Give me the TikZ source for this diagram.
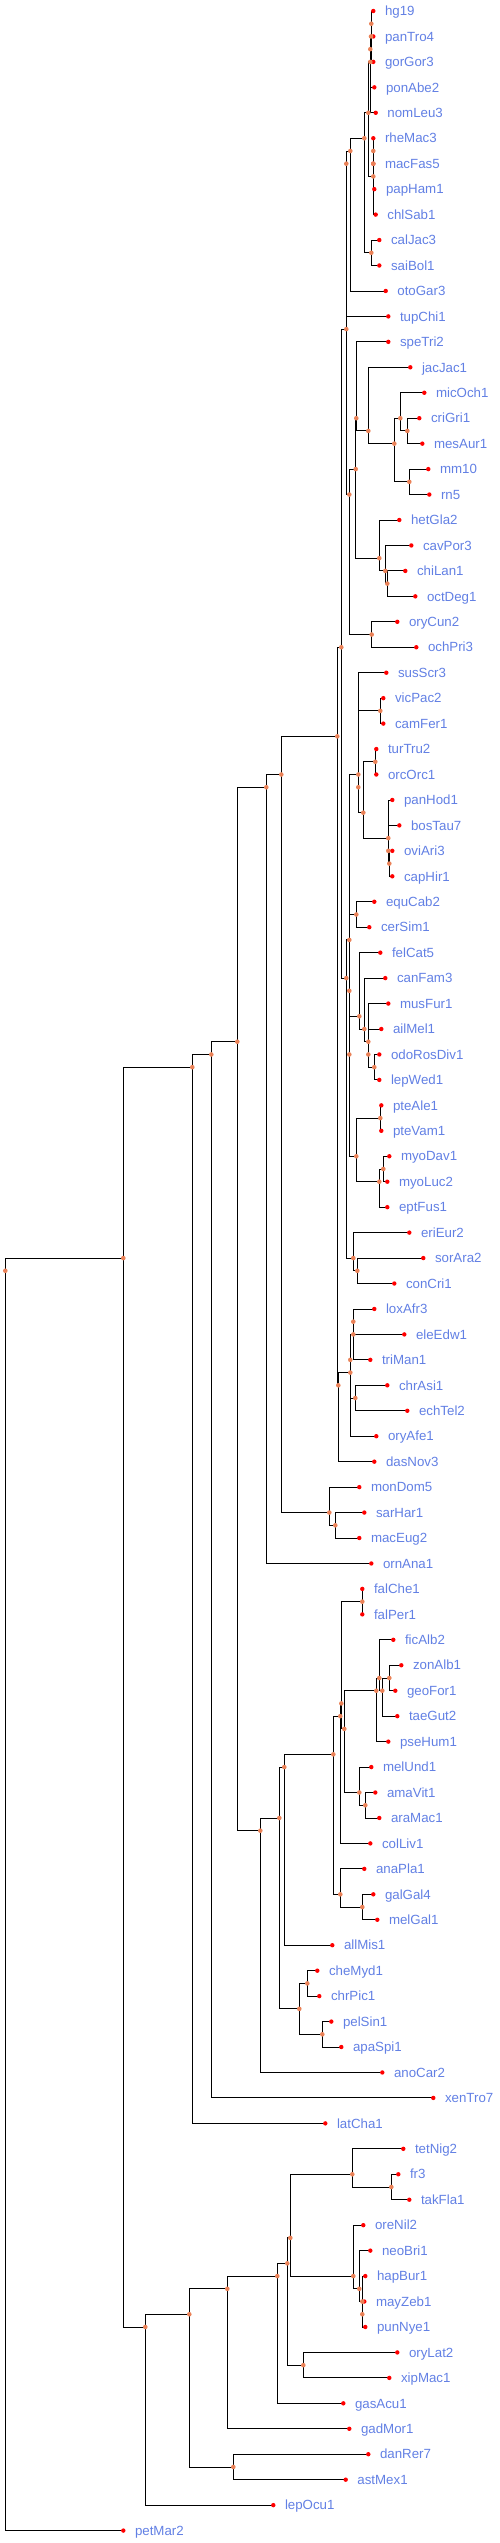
\documentclass[tikz,border=0pt]{standalone}
\usepackage{fontspec}
\setmainfont{Liberation Sans}
\usetikzlibrary{calc}

\definecolor{lblblue}{RGB}{98,128,228}
\definecolor{nodeorange}{RGB}{234,130,88}

\tikzset{
  branch/.style={line width=0.9pt, black},
  leafdot/.style={fill=red},
  innerdot/.style={fill=nodeorange},
  leaflbl/.style={anchor=base west, inner sep=0pt, xshift=11.5pt, yshift=-4.7pt,
    text=lblblue, font=\fontsize{13.3}{15}\selectfont},
}

% листья: имя/x, строка = порядковый номер
\def\leaflist{hg19/373.3, panTro4/373.3, gorGor3/373.3, ponAbe2/374.3, nomLeu3/375.7,
  rheMac3/373.3, macFas5/373.3, papHam1/374.3, chlSab1/375.7, calJac3/379.3,
  saiBol1/379.3, otoGar3/385.7, tupChi1/388.3, speTri2/388.3, jacJac1/410.3,
  micOch1/424.3, criGri1/419.3, mesAur1/422.3, mm10/428.3, rn5/429.3,
  hetGla2/399.3, cavPor3/411.3, chiLan1/405.3, octDeg1/415.3, oryCun2/397.3,
  ochPri3/416.3, susScr3/386.3, vicPac2/383.3, camFer1/383.3, turTru2/376.3,
  orcOrc1/376.3, panHod1/392.3, bosTau7/399.3, oviAri3/392.3, capHir1/392.3,
  equCab2/374.3, cerSim1/369.3, felCat5/380.3, canFam3/385.3, musFur1/388.3,
  ailMel1/381.3, odoRosDiv1/379.3, lepWed1/379.3, pteAle1/381.3, pteVam1/381.3,
  myoDav1/389.3, myoLuc2/387.3, eptFus1/387.3, eriEur2/409.3, sorAra2/423.3,
  conCri1/394.3, loxAfr3/374.3, eleEdw1/404.3, triMan1/370.3, chrAsi1/387.3,
  echTel2/407.3, oryAfe1/376.3, dasNov3/374.3, monDom5/359.3, sarHar1/364.3,
  macEug2/359.3, ornAna1/371.3, falChe1/362.3, falPer1/362.3, ficAlb2/393.3,
  zonAlb1/401.3, geoFor1/395.3, taeGut2/397.3, pseHum1/388.3, melUnd1/371.3,
  amaVit1/375.3, araMac1/379.3, colLiv1/370.3, anaPla1/364.3, galGal4/373.3,
  melGal1/377.3, allMis1/332.3, cheMyd1/317.3, chrPic1/319.3, pelSin1/331.3,
  apaSpi1/341.3, anoCar2/382.3, xenTro7/433.3, latCha1/325.3, tetNig2/403.3,
  fr3/398.3, takFla1/409.3, oreNil2/363.3, neoBri1/370.3, hapBur1/365.3,
  mayZeb1/364.3, punNye1/365.3, oryLat2/397.3, xipMac1/389.3, gasAcu1/343.3,
  gadMor1/349.3, danRer7/368.3, astMex1/345.7, lepOcu1/273.3, petMar2/123.3}

% внутренние узлы: имя/x/строка (среднее по листьям)
\def\innerlist{hp/371.3/0.5, hpg/371/1, hpgp/370.3/1.5, hom/370.3/2,
  mac/373.3/5.5, macp/373.3/6, owm/373.3/6.5, cat/368.3/4, nwm/371.3/9.5,
  sim/364.3/5, pri/350.3/5.5, euarch/346.3/6, euglir/346.3/12.5,
  glires/349.3/19, rod/355.7/18, sqmy/356.3/16, myod/368.3/16.5,
  muro/394.3/17, cric/400.3/16, crime/407.3/16.5, mur/409.3/18.5,
  hys/379.3/21.5, cav/385.3/22, chioct/387.3/22.5, lago/371.7/24.5,
  bor/341.3/25, laur/346.3/38, scro/349.3/36.5, cet/358.3/30,
  camcet/358.3/30.5, caml/380.3/27.5, cetru/363.3/31.5, ceta/375.3/29.5,
  rum/388.3/32.5, bov/388.3/33, capr/389.3/33.5, fere/349.3/41,
  zoo/349.3/38.5, peri/356.3/35.5, carn/359.3/39.5, canif/364.3/40,
  arct/368.3/40.5, ailpin/368.3/41, pinn/374.3/41.5, chir/356.3/45,
  pter/380.3/43.5, vesp/379.3/46, myo/383.3/45.5, euli/353.3/49,
  soco/357.3/49.5, eut/337.3/28.5, atl/338.3/54, afr/350.3/53.5,
  afrA/350.3/53, afrB/353.3/52, loxele/353.3/51.5, chrech/355.3/54.5,
  the/281.3/30, mars/329.3/59, austr/335.3/59.5, mam/266.3/30.5,
  amn/237.3/40.5, sau/260.3/71.5, arcl/279.3/71, arch/284.3/69,
  aves/333.3/68.5, neoav/340.3/67, neoA/341.3/66.5, falc/362.3/62.5,
  psopa/344.3/67.5, pass/376.3/66, passA/379.3/65.5, passB/382.3/66,
  zongeo/389.3/65.5, psit/359.3/70, amara/365.3/70.5, gallo/340.3/74,
  galmel/362.3/74.5, test/299.3/78.5, chechr/307.3/77.5, pelapa/322.3/79.5,
  tet/211.3/41, sarc/192.3/41.5, gna/123.3/49, root/5.3/49.5,
  act/145.3/91, tel/189.3/90.5, oto/233.3/96.5, eutel/227.3/89.5,
  perc/277.3/89, percA/287.3/88.5, percB/290.3/87.5, tetr/352.3/85,
  ftak/391.3/85.5, cich/353.3/89, cichA/359.3/89.5, cichB/362.3/90,
  mapu/362.3/90.5, orxi/303.3/92.5}

\begin{document}
\begin{tikzpicture}[x=1pt, y=-25.45pt]
  \useasboundingbox (0,-0.4322) rectangle (500,99.489);

  % узлы
  \foreach \n/\x [count=\r from 0] in \leaflist {
    \coordinate (\n) at (\x,\r);
    \node[leaflbl] (lbl-\n) at (\n) {\n};
  }
  \foreach \n/\x/\r in \innerlist
    \coordinate (\n) at (\x,\r);

  % ветви
  \foreach \p/\c in {root/gna, root/petMar2, gna/sarc, gna/act, sarc/tet, sarc/latCha1,
      tet/amn, tet/xenTro7, amn/mam, amn/sau, mam/the, mam/ornAna1,
      the/eut, the/mars, mars/monDom5, mars/austr, austr/sarHar1, austr/macEug2,
      eut/bor, eut/atl, bor/euglir, bor/laur, euglir/euarch, euglir/glires,
      euarch/pri, euarch/tupChi1, pri/sim, pri/otoGar3, sim/cat, sim/nwm,
      nwm/calJac3, nwm/saiBol1, cat/hom, cat/owm, hom/hpgp, hom/nomLeu3,
      hpgp/hpg, hpgp/ponAbe2, hpg/hp, hpg/gorGor3, hp/hg19, hp/panTro4,
      owm/macp, owm/chlSab1, macp/mac, macp/papHam1, mac/rheMac3, mac/macFas5,
      glires/rod, glires/lago, lago/oryCun2, lago/ochPri3, rod/sqmy, rod/hys,
      sqmy/speTri2, sqmy/myod, myod/jacJac1, myod/muro, muro/cric, muro/mur,
      cric/micOch1, cric/crime, crime/criGri1, crime/mesAur1, mur/mm10, mur/rn5,
      hys/hetGla2, hys/cav, cav/cavPor3, cav/chioct, chioct/chiLan1, chioct/octDeg1,
      laur/scro, laur/euli, euli/eriEur2, euli/soco, soco/sorAra2, soco/conCri1,
      scro/cet, scro/fere, cet/susScr3, cet/camcet, camcet/caml, camcet/cetru,
      caml/vicPac2, caml/camFer1, cetru/ceta, cetru/rum, ceta/turTru2, ceta/orcOrc1,
      rum/panHod1, rum/bov, bov/bosTau7, bov/capr, capr/oviAri3, capr/capHir1,
      fere/zoo, fere/chir, zoo/peri, zoo/carn, peri/equCab2, peri/cerSim1,
      carn/felCat5, carn/canif, canif/canFam3, canif/arct, arct/musFur1, arct/ailpin,
      ailpin/ailMel1, ailpin/pinn, pinn/odoRosDiv1, pinn/lepWed1,
      chir/pter, chir/vesp, pter/pteAle1, pter/pteVam1, vesp/myo, vesp/eptFus1,
      myo/myoDav1, myo/myoLuc2, atl/afr, atl/dasNov3, afr/afrA, afr/oryAfe1,
      afrA/afrB, afrA/chrech, afrB/loxele, afrB/triMan1, loxele/loxAfr3, loxele/eleEdw1,
      chrech/chrAsi1, chrech/echTel2, sau/arcl, sau/anoCar2, arcl/arch, arcl/test,
      arch/aves, arch/allMis1, aves/neoav, aves/gallo, neoav/neoA, neoav/colLiv1,
      neoA/falc, neoA/psopa, falc/falChe1, falc/falPer1, psopa/pass, psopa/psit,
      pass/passA, pass/pseHum1, passA/ficAlb2, passA/passB, passB/zongeo, passB/taeGut2,
      zongeo/zonAlb1, zongeo/geoFor1, psit/melUnd1, psit/amara,
      amara/amaVit1, amara/araMac1, gallo/anaPla1, gallo/galmel,
      galmel/galGal4, galmel/melGal1, test/chechr, test/pelapa,
      chechr/cheMyd1, chechr/chrPic1, pelapa/pelSin1, pelapa/apaSpi1,
      act/tel, act/lepOcu1, tel/eutel, tel/oto, oto/danRer7, oto/astMex1,
      eutel/perc, eutel/gadMor1, perc/percA, perc/gasAcu1, percA/percB, percA/orxi,
      orxi/oryLat2, orxi/xipMac1, percB/tetr, percB/cich, tetr/tetNig2, tetr/ftak,
      ftak/fr3, ftak/takFla1, cich/oreNil2, cich/cichA, cichA/neoBri1, cichA/cichB,
      cichB/hapBur1, cichB/mapu, mapu/mayZeb1, mapu/punNye1}
    \draw[branch] (\p) |- (\c);

  % точки
  \foreach \n/\x in \leaflist
    \fill[leafdot] (\n) circle (2.2pt);
  \foreach \n/\x/\r in \innerlist
    \fill[innerdot] (\n) circle (2.3pt);
\end{tikzpicture}
\end{document}
